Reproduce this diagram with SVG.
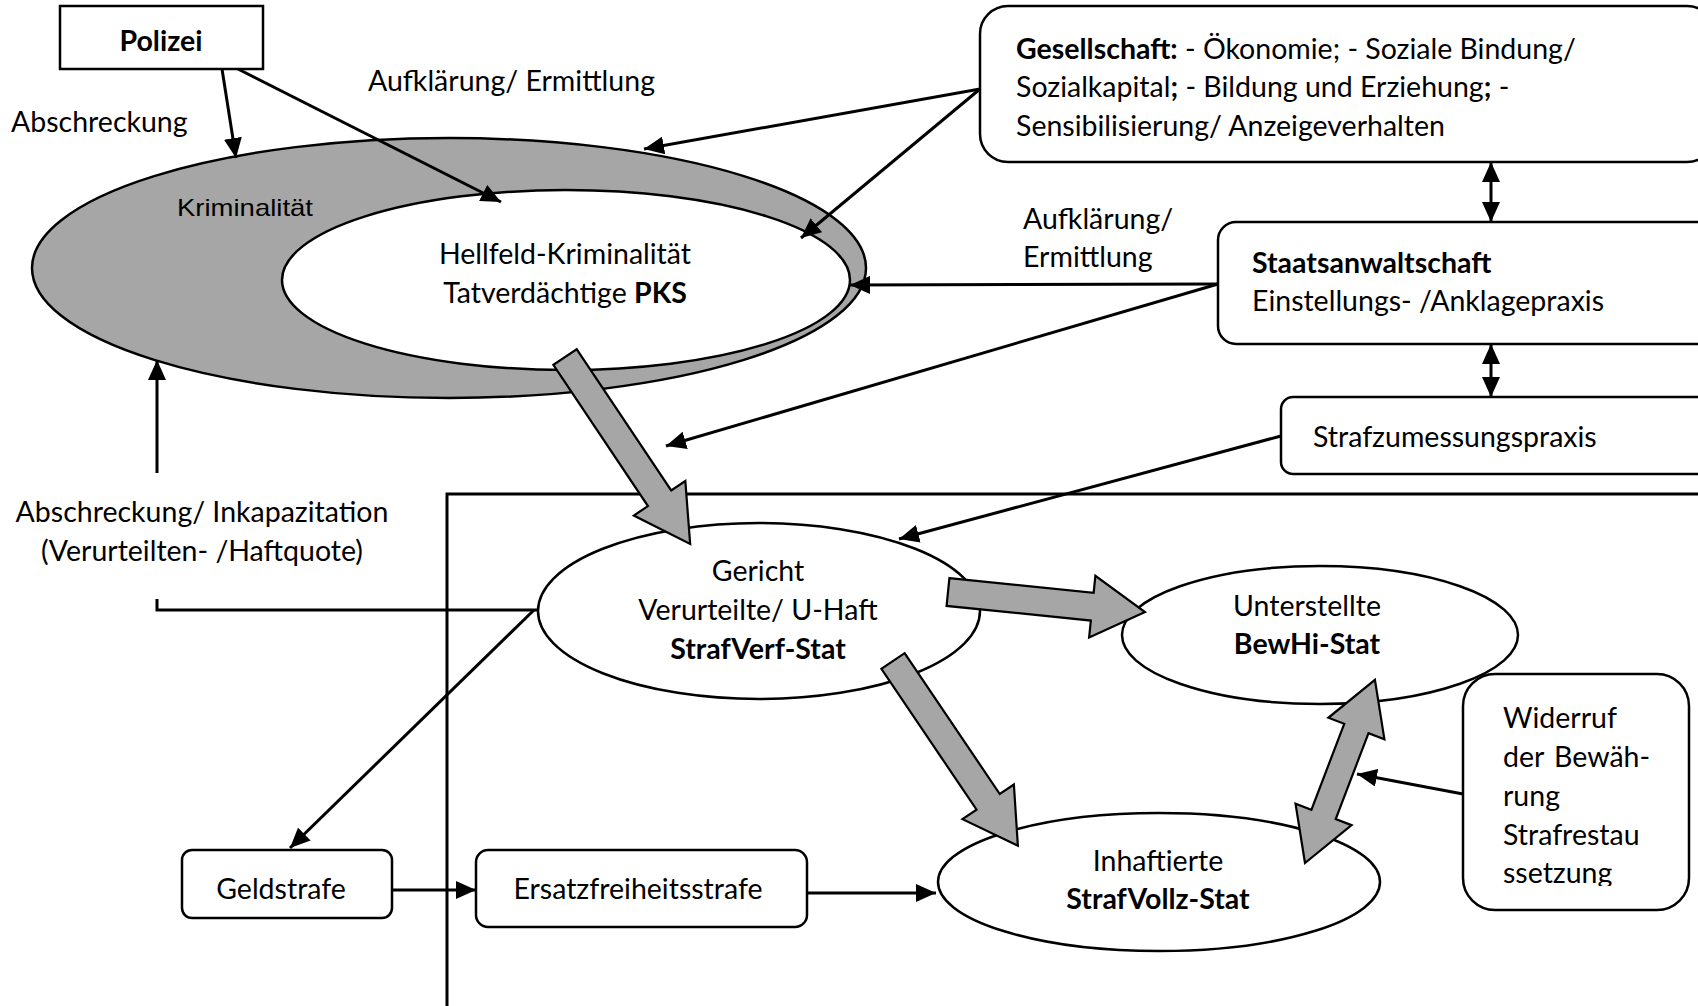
<svg xmlns="http://www.w3.org/2000/svg" width="1698" height="1006" viewBox="0 0 1698 1006">
<style>
.t{font-family:Lato,"Open Sans","Liberation Sans",sans-serif;font-size:28.5px;fill:#000}
.c{text-anchor:middle}
.b{font-weight:bold}
.a{font-family:"Liberation Sans",Arial,sans-serif;font-size:24px;fill:#000}
.box{fill:#fff;stroke:#000;stroke-width:2.5}
.ln{fill:none;stroke:#000;stroke-width:3}
.blk{fill:#a6a6a6;stroke:#000;stroke-width:2.2;stroke-linejoin:miter}
</style>
<defs>
<marker id="ah" markerUnits="userSpaceOnUse" markerWidth="22" markerHeight="18" refX="20" refY="9" orient="auto">
<path d="M0,0 L20,9 L0,18 Z" fill="#000"/>
</marker>
<marker id="as" markerUnits="userSpaceOnUse" markerWidth="22" markerHeight="18" refX="2" refY="9" orient="auto">
<path d="M22,0 L2,9 L22,18 Z" fill="#000"/>
</marker>
<clipPath id="wclip"><rect x="1463" y="674" width="226" height="212"/></clipPath>
</defs>
<rect width="1698" height="1006" fill="#fff"/>

<g id="frame"><path class="ln" d="M447,1006 L447,494 L1698,494" stroke-width="2.5"/></g>

<g id="kriminalitaet">
<ellipse cx="449" cy="268" rx="417" ry="130" fill="#a6a6a6" stroke="#000" stroke-width="2.5"/>
<text class="a" x="177" y="216" textLength="136" lengthAdjust="spacingAndGlyphs">Kriminalität</text>
</g>
<g id="hellfeld">
<ellipse cx="566" cy="280" rx="284" ry="90" fill="#fff" stroke="#000" stroke-width="2.5"/>
<text class="t c" x="565" y="264">Hellfeld-Kriminalität</text>
<text class="t c" x="565" y="303">Tatverdächtige <tspan class="b">PKS</tspan></text>
</g>

<g id="polizei">
<rect class="box" x="60" y="6" width="203" height="63"/>
<text class="t c b" x="161" y="51">Polizei</text>
</g>

<g id="gesellschaft">
<rect class="box" x="980" y="6" width="735" height="156" rx="28"/>
<text class="t" x="1016" y="59"><tspan class="b">Gesellschaft:</tspan> - Ökonomie; - Soziale Bindung/</text>
<text class="t" x="1016" y="97">Sozialkapital<tspan class="b">;</tspan> - Bildung und Erziehung<tspan class="b">;</tspan> -</text>
<text class="t" x="1016" y="136">Sensibilisierung/ Anzeigeverhalten</text>
</g>

<g id="staatsanwaltschaft">
<rect class="box" x="1218" y="222" width="500" height="122" rx="18"/>
<text class="t b" x="1252" y="273">Staatsanwaltschaft</text>
<text class="t" x="1252" y="311">Einstellungs- /Anklagepraxis</text>
</g>

<g id="strafzumessung">
<rect class="box" x="1281" y="397" width="440" height="77" rx="12"/>
<text class="t" x="1313" y="447">Strafzumessungspraxis</text>
</g>

<g id="gericht">
<ellipse cx="759" cy="611" rx="221" ry="88" fill="#fff" stroke="#000" stroke-width="2.5"/>
<text class="t c" x="758" y="581">Gericht</text>
<text class="t c" x="758" y="620">Verurteilte/ U-Haft</text>
<text class="t c b" x="758" y="659">StrafVerf-Stat</text>
</g>

<g id="unterstellte">
<ellipse cx="1320" cy="635" rx="198" ry="69" fill="#fff" stroke="#000" stroke-width="2.5"/>
<text class="t c" x="1307" y="616">Unterstellte</text>
<text class="t c b" x="1307" y="654">BewHi-Stat</text>
</g>

<g id="inhaftierte">
<ellipse cx="1159" cy="882" rx="221" ry="69" fill="#fff" stroke="#000" stroke-width="2.5"/>
<text class="t c" x="1158" y="871">Inhaftierte</text>
<text class="t c b" x="1158" y="909">StrafVollz-Stat</text>
</g>

<g id="widerruf">
<rect class="box" x="1463" y="674" width="226" height="236" rx="32"/>
<g clip-path="url(#wclip)">
<text class="t" x="1503" y="728">Widerruf</text>
<text class="t" x="1503" y="767" word-spacing="3">der Bewäh-</text>
<text class="t" x="1503" y="806">rung</text>
<text class="t" x="1503" y="845">Strafrestau</text>
<text class="t" x="1503" y="883">ssetzung</text>
</g>
</g>

<g id="geldstrafe">
<rect class="box" x="182" y="850" width="210" height="68" rx="10"/>
<text class="t c" x="281" y="899">Geldstrafe</text>
</g>

<g id="ersatz">
<rect class="box" x="476" y="850" width="331" height="77" rx="12"/>
<text class="t c" x="638" y="899">Ersatzfreiheitsstrafe</text>
</g>

<g id="labels">
<text class="t" x="11" y="132">Abschreckung</text>
<text class="t" x="368" y="91">Aufklärung/ Ermittlung</text>
<text class="t" x="1023" y="229">Aufklärung/</text>
<text class="t" x="1023" y="267">Ermittlung</text>
<text class="t c" x="202" y="522">Abschreckung/ Inkapazitation</text>
<text class="t c" x="202" y="561">(Verurteilten- /Haftquote)</text>
</g>

<g id="connectors">
<line class="ln" x1="222" y1="69" x2="236" y2="158" marker-end="url(#ah)"/>
<line class="ln" x1="238" y1="69" x2="501" y2="202" marker-end="url(#ah)"/>
<line class="ln" x1="980" y1="89" x2="644" y2="149" marker-end="url(#ah)"/>
<line class="ln" x1="980" y1="89" x2="801" y2="238" marker-end="url(#ah)"/>
<line class="ln" x1="1218" y1="284" x2="850" y2="285" marker-end="url(#ah)"/>
<line class="ln" x1="1218" y1="284" x2="666" y2="446" marker-end="url(#ah)"/>
<line class="ln" x1="1281" y1="436" x2="899" y2="539" marker-end="url(#ah)"/>
<line class="ln" x1="1491" y1="162" x2="1491" y2="222" marker-start="url(#as)" marker-end="url(#ah)"/>
<line class="ln" x1="1491" y1="344" x2="1491" y2="397" marker-start="url(#as)" marker-end="url(#ah)"/>
<line class="ln" x1="157" y1="473" x2="157" y2="360" marker-end="url(#ah)"/>
<path class="ln" d="M157,599 L157,610 L538,610"/>
<line class="ln" x1="534" y1="610" x2="290" y2="848" marker-end="url(#ah)"/>
<line class="ln" x1="392" y1="890" x2="476" y2="890" marker-end="url(#ah)"/>
<line class="ln" x1="807" y1="893" x2="936" y2="893" marker-end="url(#ah)"/>
<line class="ln" x1="1463" y1="794" x2="1357" y2="774" marker-end="url(#ah)"/>
<polygon class="blk" transform="translate(565,357) rotate(56.2)" points="0,-14 170,-14 170,-31 225,0 170,31 170,14 0,14"/>
<polygon class="blk" transform="translate(948,592) rotate(5.8)" points="0,-14 145,-14 145,-31 198,0 145,31 145,14 0,14"/>
<polygon class="blk" transform="translate(893,661) rotate(55.95)" points="0,-14 170,-14 170,-31 223,0 170,31 170,14 0,14"/>
<polygon class="blk" transform="translate(1305,863) rotate(-69.1)" points="0,0 52,-30 52,-13 144,-13 144,-30 196,0 144,30 144,13 52,13 52,30"/>
</g>
</svg>
